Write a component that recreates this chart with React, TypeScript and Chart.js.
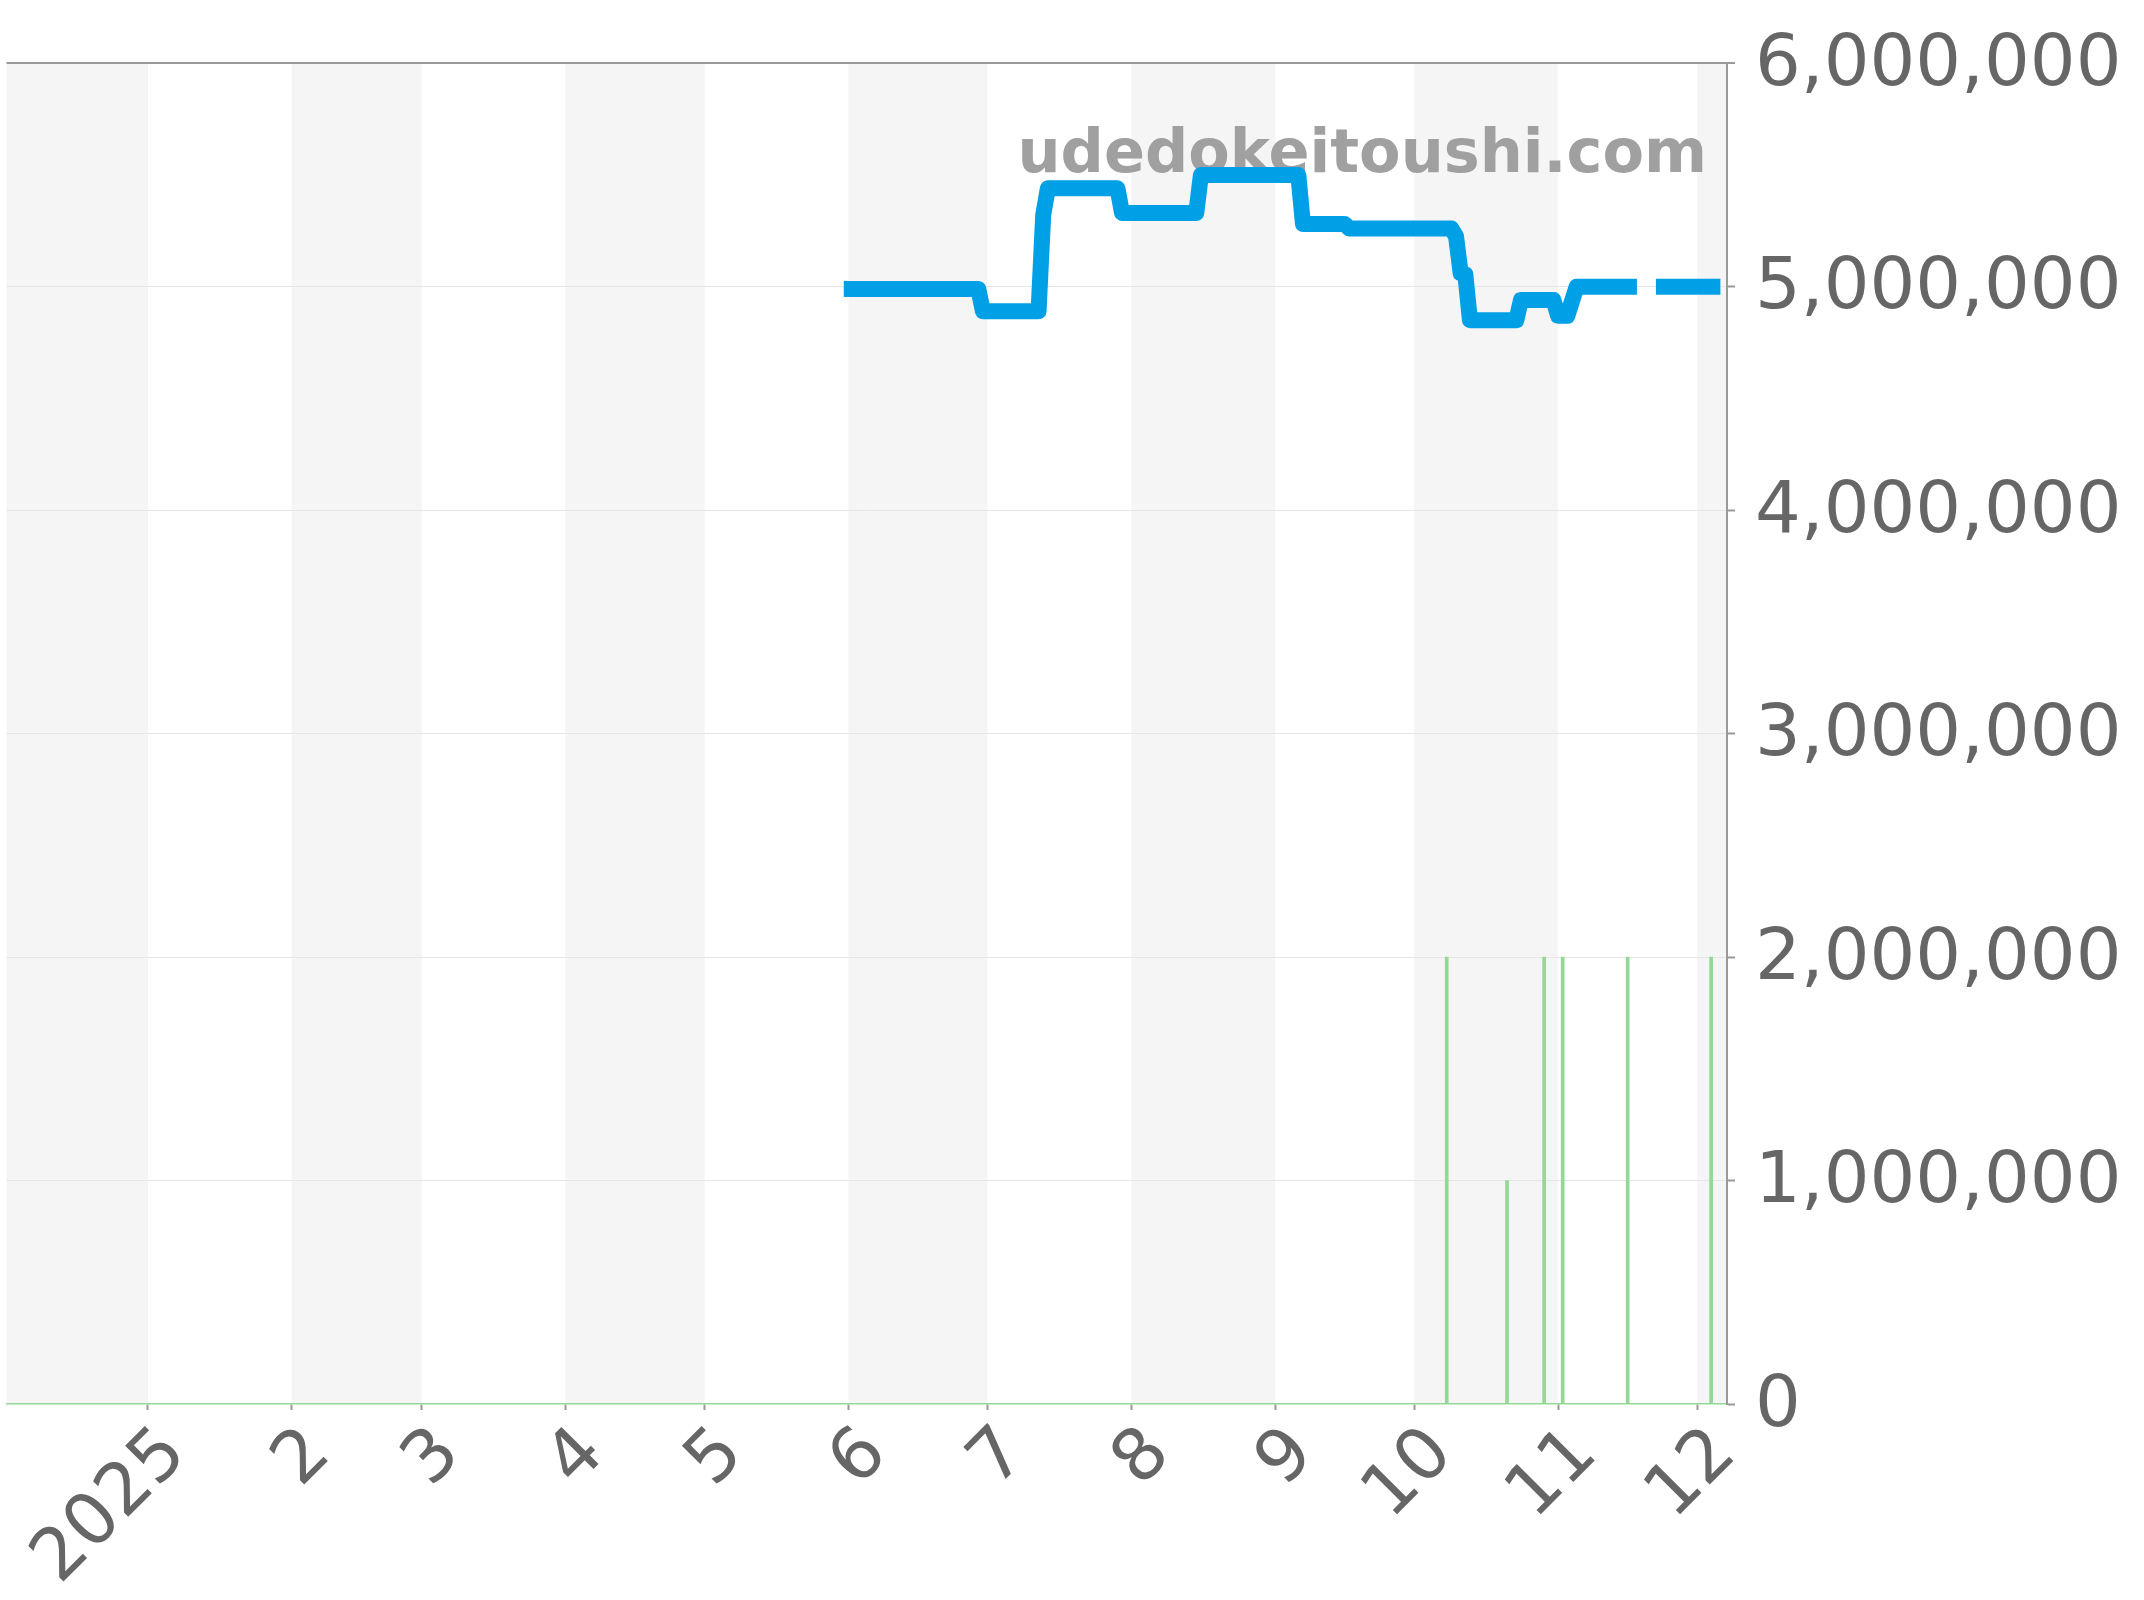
import React, { useEffect, useRef } from 'react';
import { Chart, registerables } from 'chart.js';

Chart.register(...registerables);

// ---- data ----
const priceDates = [
  '2025-05-31', '2025-06-29', '2025-06-30', '2025-07-12', '2025-07-13', '2025-07-14',
  '2025-07-29', '2025-07-30', '2025-08-15', '2025-08-16', '2025-09-06', '2025-09-07',
  '2025-09-16', '2025-09-17', '2025-10-09', '2025-10-10', '2025-10-11', '2025-10-12',
  '2025-10-13', '2025-10-23', '2025-10-24', '2025-10-31', '2025-11-01', '2025-11-03',
  '2025-11-05', '2025-11-18', '2025-12-06',
];
const priceValues = [
  4990000, 4990000, 4890000, 4890000, 5320000, 5440000,
  5440000, 5330000, 5330000, 5500000, 5500000, 5280000,
  5280000, 5260000, 5260000, 5225000, 5060000, 5055000,
  4850000, 4850000, 4940000, 4940000, 4870000, 4870000,
  5000000, 5000000, 5000000,
];

const volumeDates = ['2025-10-08', '2025-10-21', '2025-10-29', '2025-11-02', '2025-11-16', '2025-12-04'];
const volumeValues = [2, 1, 2, 2, 2, 2];

const tickDates = [
  '2025-01-01', '2025-02-01', '2025-03-01', '2025-04-01', '2025-05-01', '2025-06-01',
  '2025-07-01', '2025-08-01', '2025-09-01', '2025-10-01', '2025-11-01', '2025-12-01',
];
const tickLabels = ['2025', '2', '3', '4', '5', '6', '7', '8', '9', '10', '11', '12'];

const shadedMonths: [string, string][] = [
  ['2024-12-01', '2025-01-01'],
  ['2025-02-01', '2025-03-01'],
  ['2025-04-01', '2025-05-01'],
  ['2025-06-01', '2025-07-01'],
  ['2025-08-01', '2025-09-01'],
  ['2025-10-01', '2025-11-01'],
  ['2025-12-01', '2026-01-01'],
];

const yTicks = [0, 1000000, 2000000, 3000000, 4000000, 5000000, 6000000];
const watermarkText = 'udedokeitoushi.com';

// ---- helpers ----
const DAY0 = Date.UTC(2025, 0, 1);
function toDay(s: string): number {
  const [y, m, d] = s.split('-').map(Number);
  return (Date.UTC(y, m - 1, d) - DAY0) / 86400000;
}

const X_MIN = toDay('2024-12-01') + 0.5;
const X_MAX = toDay('2025-12-07') + 0.42;

const BLUE = 'rgb(0,160,230)';
const GREEN = '#93d996';
const FONT = 'DejaVu Sans';

export default function App() {
  const ref = useRef<HTMLCanvasElement>(null);

  useEffect(() => {
    const canvas = ref.current!;

    const bandPlugin = {
      id: 'bands',
      beforeDraw(chart: any) {
        const { ctx, chartArea: a } = chart;
        const x = chart.scales.x;
        ctx.save();
        ctx.beginPath();
        ctx.rect(a.left, a.top, a.right - a.left, a.bottom - a.top);
        ctx.clip();
        ctx.fillStyle = '#f5f5f5';
        shadedMonths.forEach(([s, e]) => {
          const x0 = x.getPixelForValue(toDay(s));
          const x1 = x.getPixelForValue(toDay(e));
          ctx.fillRect(x0, a.top, x1 - x0, a.bottom - a.top);
        });
        ctx.restore();
      },
    };

    const watermarkPlugin = {
      id: 'watermark',
      beforeDatasetsDraw(chart: any) {
        const { ctx, chartArea: a } = chart;
        ctx.save();
        ctx.font = `bold 60.5px "${FONT}"`;
        ctx.fillStyle = '#a0a0a0';
        ctx.textAlign = 'right';
        ctx.textBaseline = 'alphabetic';
        ctx.fillText(watermarkText, a.right - 20, a.top + 109);
        ctx.restore();
      },
    };

    const lastIdx = priceValues.length - 1;

    const chart = new Chart(canvas, {
      type: 'line',
      data: {
        datasets: [
          {
            type: 'line',
            label: 'price',
            data: priceDates.map((d, i) => ({ x: toDay(d), y: priceValues[i] })),
            borderColor: BLUE,
            borderWidth: 16,
            borderJoinStyle: 'round',
            borderCapStyle: 'butt',
            pointRadius: 0,
            tension: 0,
            fill: false,
            xAxisID: 'x',
            yAxisID: 'y',
            segment: {
              borderDash: (c: any) => (c.p1DataIndex === lastIdx ? [65, 19] : undefined),
              borderDashOffset: (c: any) => (c.p1DataIndex === lastIdx ? 65 : 0),
            },
            order: 0,
          } as any,
          {
            type: 'bar',
            label: 'volume',
            data: volumeDates.map((d, i) => ({ x: toDay(d), y: volumeValues[i] })),
            backgroundColor: GREEN,
            borderWidth: 0,
            barThickness: 3,
            grouped: false,
            xAxisID: 'x',
            yAxisID: 'yVol',
            order: 1,
          } as any,
        ],
      },
      options: {
        animation: false,
        responsive: false,
        maintainAspectRatio: false,
        events: [],
        layout: { padding: { left: 6.5, top: 63, right: 0, bottom: 0 } },
        plugins: {
          legend: { display: false },
          tooltip: { enabled: false },
        },
        scales: {
          x: {
            type: 'linear',
            min: X_MIN,
            max: X_MAX,
            offset: false,
            afterBuildTicks: (scale: any) => {
              scale.ticks = tickDates.map((d) => ({ value: toDay(d) }));
            },
            afterFit: (scale: any) => {
              scale.height = 196;
            },
            grid: {
              offset: false,
              drawOnChartArea: false,
              drawTicks: true,
              tickLength: 6,
              tickColor: '#999',
              tickWidth: 2,
            },
            border: { display: true, color: GREEN, width: 1.5, dash: [4, 3] },
            ticks: {
              autoSkip: false,
              minRotation: 45,
              maxRotation: 45,
              padding: 2,
              labelOffset: 28,
              color: '#666',
              font: { family: FONT, size: 72 },
              callback: (_v: any, i: number) => tickLabels[i],
            },
          },
          y: {
            type: 'linear',
            position: 'right',
            min: 0,
            max: 6000000,
            afterBuildTicks: (scale: any) => {
              scale.ticks = yTicks.map((v) => ({ value: v }));
            },
            afterFit: (scale: any) => {
              scale.width = 417;
            },
            grid: {
              color: (c: any) =>
                c.tick && c.tick.value === 6000000
                  ? '#999'
                  : c.tick && c.tick.value === 0
                  ? 'rgba(0,0,0,0)'
                  : '#e6e6e6',
              lineWidth: (c: any) => (c.tick && c.tick.value === 6000000 ? 2 : 1),
              tickColor: '#999',
              tickLength: 8,
              tickWidth: 2,
            },
            border: { display: true, color: '#999', width: 2 },
            ticks: {
              padding: 20,
              labelOffset: 3,
              color: '#666',
              font: { family: FONT, size: 72 },
              callback: (v: any) => Number(v).toLocaleString('en-US'),
            },
          },
          yVol: {
            type: 'linear',
            display: false,
            min: 0,
            max: 6,
          },
        },
      } as any,
      plugins: [bandPlugin, watermarkPlugin],
    });

    return () => chart.destroy();
  }, []);

  return (
    <div style={{ position: 'absolute', left: 0, top: 0, width: 2144, height: 1600, background: '#fff' }}>
      <canvas ref={ref} width={2144} height={1600} style={{ display: 'block', width: 2144, height: 1600 }} />
    </div>
  );
}
